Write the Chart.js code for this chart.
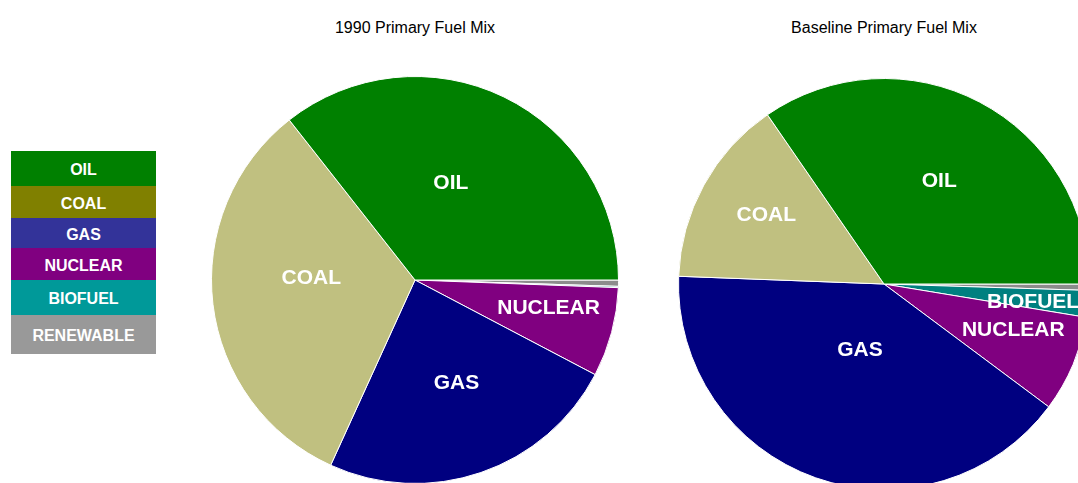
<!DOCTYPE html>
<html>
<head>
<meta charset="utf-8">
<script src="https://cdn.jsdelivr.net/npm/chart.js@4/dist/chart.umd.min.js"></script>
<style>
  html, body { margin: 0; padding: 0; background: #fff; overflow: hidden; }
  #wrap { position: relative; width: 1078px; height: 483px; overflow: hidden; font-family: "Liberation Sans", Arial, sans-serif; }
  .title { position: absolute; top: 19px; width: 470px; text-align: center; font-size: 16px; color: #000; }
  canvas { position: absolute; top: 0; }
  #legend { position: absolute; left: 11px; top: 151px; width: 145px; }
  #legend div { box-sizing: border-box; padding-top: 3px; color: #fff; font-weight: bold; font-size: 16px; text-align: center; display: flex; align-items: center; justify-content: center; }
</style>
</head>
<body>
<div id="wrap">
  <div id="legend"></div>
  <div class="title" style="left:180px">1990 Primary Fuel Mix</div>
  <div class="title" style="left:649px">Baseline Primary Fuel Mix</div>
  <canvas id="pie1990" width="470" height="500" style="left:180px"></canvas>
  <canvas id="pieBase" width="470" height="500" style="left:649px"></canvas>
</div>
<script>
// Datos (porcentajes)
const fuels = ['OIL', 'COAL', 'GAS', 'NUCLEAR', 'BIOFUEL', 'RENEWABLE'];
const mix1990 = [35.6, 32.6, 24.1, 7.1, 0.1, 0.5];
const mixBaseline = [34.6, 14.8, 40.4, 7.6, 2.1, 0.5];

// Colores
const pieColors = ['#008000', '#c0c080', '#000080', '#800080', '#008080', '#8c8c8c'];
const legendColors = ['#008000', '#808000', '#333399', '#800080', '#009999', '#999999'];
const legendHeights = [35, 32, 30, 32, 35, 39];

// Posición de etiquetas: fracción del radio y ajuste de ángulo (grados)
const labelDist1990 = [0.51, 0.51, 0.54, 0.67, 0, 0];
const labelNudge1990 = [-5.7, 8.5, -3.3, -3.3, 0, 0];
const labelDistBase = [0.57, 0.667, 0.337, 0.667, 0.73, 0];
const labelNudgeBase = [0.4, 2, 0.9, -3.6, 0.9, 0];

// Leyenda HTML
const legendEl = document.getElementById('legend');
fuels.forEach(function (f, i) {
    const d = document.createElement('div');
    d.textContent = f;
    d.style.background = legendColors[i];
    d.style.height = legendHeights[i] + 'px';
    legendEl.appendChild(d);
});

// Etiquetas dentro de los sectores
const sliceLabels = {
    id: 'sliceLabels',
    afterDatasetsDraw(chart, args, opts) {
        const ctx = chart.ctx;
        const meta = chart.getDatasetMeta(0);
        const values = chart.data.datasets[0].data;
        ctx.save();
        ctx.fillStyle = '#ffffff';
        ctx.font = 'bold 21px "Liberation Sans", Arial, sans-serif';
        ctx.textAlign = 'center';
        ctx.textBaseline = 'middle';
        meta.data.forEach(function (arc, i) {
            if (values[i] < 1 || !opts.dist[i]) return;
            const p = arc.getProps(['x', 'y', 'startAngle', 'endAngle', 'outerRadius'], true);
            const a = (p.startAngle + p.endAngle) / 2 + opts.nudge[i] * Math.PI / 180;
            const r = p.outerRadius * opts.dist[i];
            ctx.fillText(chart.data.labels[i], p.x + Math.cos(a) * r, p.y + Math.sin(a) * r + 1);
        });
        ctx.restore();
    }
};

// Se dibuja en sentido antihorario desde las 3: invertimos el orden
function rev(a) { return a.slice().reverse(); }

function makePie(id, values, dist, nudge, pad) {
    new Chart(document.getElementById(id), {
        type: 'pie',
        data: {
            labels: rev(fuels),
            datasets: [{
                data: rev(values),
                backgroundColor: rev(pieColors),
                borderColor: '#ffffff',
                borderWidth: 1,
                hoverOffset: 0
            }]
        },
        options: {
            responsive: false,
            animation: false,
            events: [],
            rotation: 90,
            layout: { padding: pad },
            plugins: {
                legend: { display: false },
                tooltip: { enabled: false },
                title: { display: false },
                sliceLabels: { dist: rev(dist), nudge: rev(nudge) }
            }
        },
        plugins: [sliceLabels]
    });
}

makePie('pie1990', mix1990, labelDist1990, labelNudge1990, { top: 76, bottom: 16, left: 0, right: 0 });
makePie('pieBase', mixBaseline, labelDistBase, labelNudgeBase, { top: 78, bottom: 10, left: 0, right: 0 });
</script>
</body>
</html>
